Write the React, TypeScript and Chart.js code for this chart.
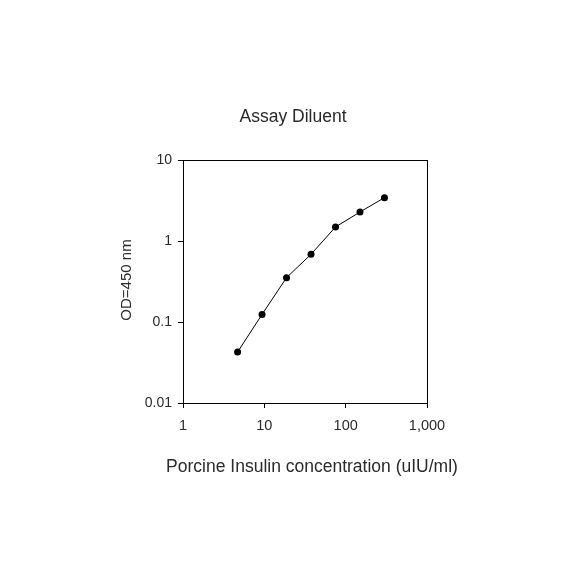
import React, { useEffect, useRef } from "react";
import { Chart, registerables } from "chart.js";

Chart.register(...registerables);

const concentrations = [4.69, 9.375, 18.75, 37.5, 75, 150, 300];
const odValues = [0.0426, 0.124, 0.353, 0.685, 1.49, 2.28, 3.43];
const xTicks = [1, 10, 100, 1000];
const yTicks = [0.01, 0.1, 1, 10];
const chartTitle = "Assay Diluent";
const xTitle = "Porcine Insulin concentration (uIU/ml)";
const yTitle = "OD=450 nm";

const textColor = "#2a2a2a";
const fontFamily = "Arial, 'Liberation Sans', sans-serif";

export default function App() {
  const ref = useRef<HTMLCanvasElement>(null);

  useEffect(() => {
    if (!ref.current) return;
    const decor = {
      id: "decor",
      afterDraw(chart: any) {
        const { ctx, chartArea } = chart;
        const { left, right, top, bottom } = chartArea;
        ctx.save();
        ctx.strokeStyle = "#000";
        ctx.lineWidth = 1;
        ctx.strokeRect(Math.round(left) + 0.5, Math.round(top) + 0.5, Math.round(right - left), Math.round(bottom - top));
        ctx.fillStyle = textColor;
        ctx.textAlign = "center";
        ctx.textBaseline = "middle";
        ctx.font = `17.5px ${fontFamily}`;
        ctx.fillText(chartTitle, 293, 117);
        ctx.font = `17.5px ${fontFamily}`;
        ctx.fillText(xTitle, 312, 467);
        ctx.translate(127, 280);
        ctx.rotate(-Math.PI / 2);
        ctx.font = `15px ${fontFamily}`;
        ctx.fillText(yTitle, 0, 0);
        ctx.restore();
      },
    };

    const chart = new Chart(ref.current, {
      type: "line",
      data: {
        datasets: [
          {
            data: concentrations.map((c, i) => ({ x: c, y: odValues[i] })),
            borderColor: "#000",
            borderWidth: 1,
            pointRadius: 3.5,
            pointBackgroundColor: "#000",
            pointBorderColor: "#000",
            pointBorderWidth: 0,
            tension: 0,
          },
        ],
      },
      options: {
        animation: false,
        responsive: false,
        maintainAspectRatio: false,
        layout: { padding: { left: 143, right: 157, top: 160, bottom: 151 } },
        plugins: { legend: { display: false }, title: { display: false }, tooltip: { enabled: false } },
        scales: {
          x: {
            type: "logarithmic",
            min: 1,
            max: 1000,
            afterBuildTicks: (scale: any) => {
              scale.ticks = xTicks.map((v) => ({ value: v }));
            },
            afterFit: (scale: any) => {
              scale.height = 30;
            },
            grid: { drawOnChartArea: false, drawTicks: true, tickLength: 5, color: "#000" },
            border: { display: true, color: "#000", width: 1 },
            ticks: {
              autoSkip: false,
              maxRotation: 0,
              padding: 9,
              color: textColor,
              font: { family: fontFamily, size: 14.5 },
              callback: (v: any) => Number(v).toLocaleString("en-US"),
            },
          },
          y: {
            type: "logarithmic",
            min: 0.01,
            max: 10,
            afterBuildTicks: (scale: any) => {
              scale.ticks = yTicks.map((v) => ({ value: v }));
            },
            afterFit: (scale: any) => {
              scale.width = 40;
            },
            grid: { drawOnChartArea: false, drawTicks: true, tickLength: 5, color: "#000" },
            border: { display: true, color: "#000", width: 1 },
            ticks: {
              autoSkip: false,
              padding: 6,
              color: textColor,
              font: { family: fontFamily, size: 14 },
              callback: (v: any) => String(Number(v)),
            },
          },
        },
      },
      plugins: [decor],
    } as any);
    return () => chart.destroy();
  }, []);

  return (
    <div style={{ position: "fixed", left: 0, top: 0, width: 584, height: 584, background: "#fff" }}>
      <canvas ref={ref} width={584} height={584} style={{ width: 584, height: 584 }} />
    </div>
  );
}
